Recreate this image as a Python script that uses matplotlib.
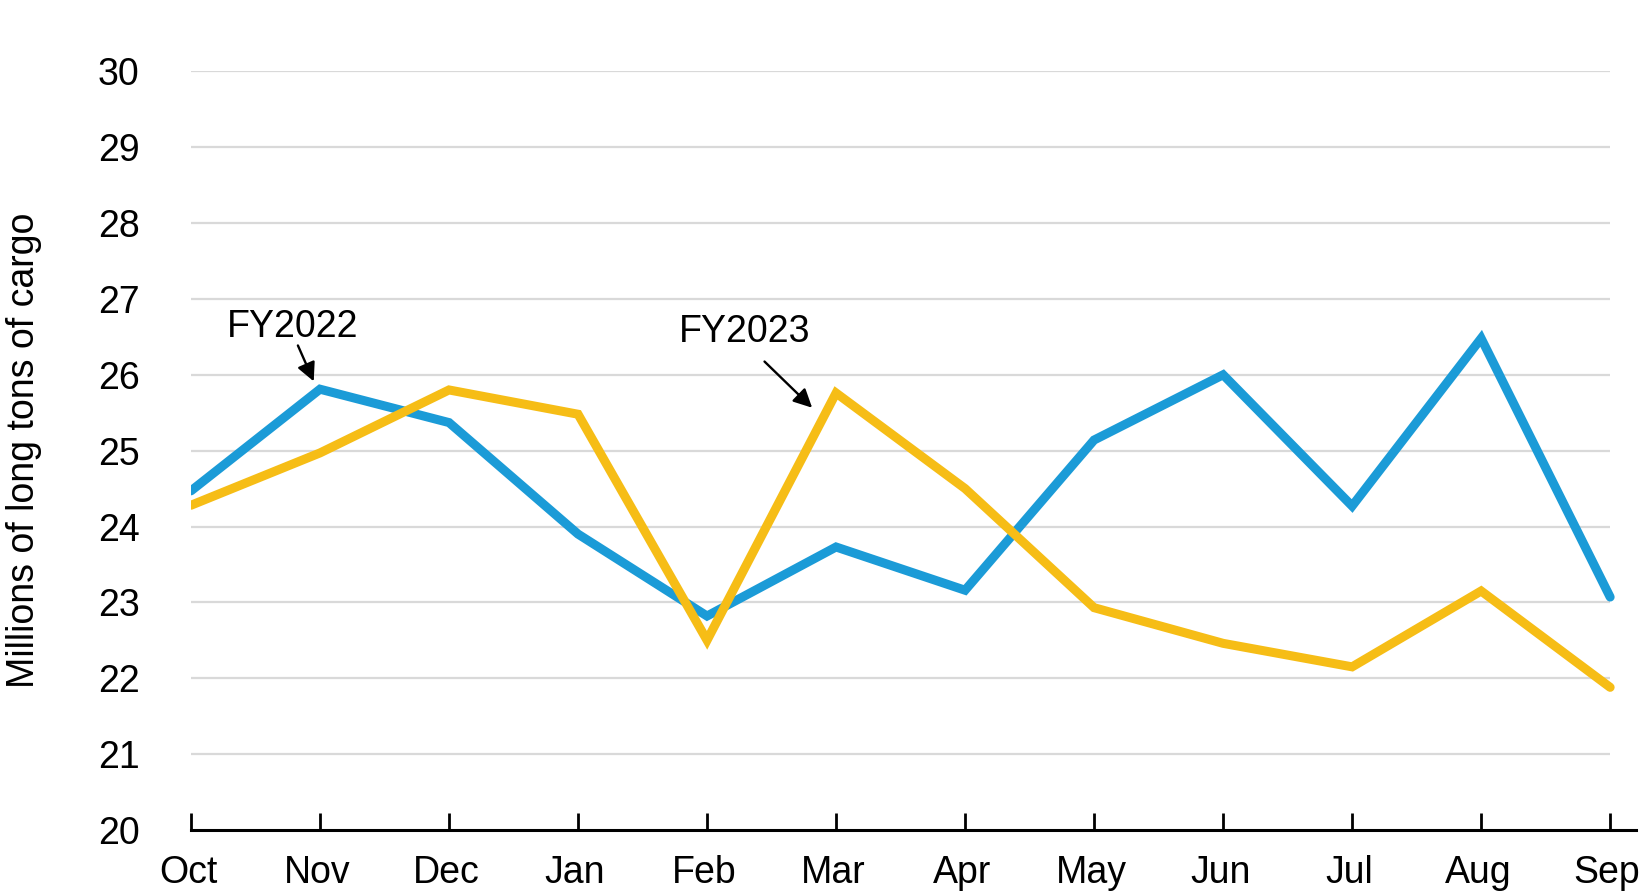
import matplotlib
matplotlib.use("Agg")
import matplotlib.pyplot as plt
from matplotlib.transforms import ScaledTranslation

months = ["Oct", "Nov", "Dec", "Jan", "Feb", "Mar", "Apr", "May", "Jun", "Jul", "Aug", "Sep"]
fy2022 = [24.47, 25.81, 25.37, 23.90, 22.82, 23.73, 23.16, 25.14, 26.00, 24.27, 26.48, 23.07]
fy2023 = [24.28, 24.97, 25.80, 25.48, 22.50, 25.76, 24.50, 22.93, 22.46, 22.15, 23.15, 21.88]
yticks = [20, 21, 22, 23, 24, 25, 26, 27, 28, 29, 30]
ylabel = "Millions of long tons of cargo"

BLUE = "#1b9bd7"
YELLOW = "#f6bd16"
FS = 27

plt.rcParams["font.family"] = ["Liberation Sans", "DejaVu Sans"]

fig = plt.figure(figsize=(16.45, 8.96), dpi=100)
ax = fig.add_axes([0.1161, 0.0737, 0.8784, 0.8467])

x = list(range(len(months)))
ax.hlines(yticks[1:], 0, len(months) - 1, colors="#d9d9d9", linewidth=1.6, zorder=1)
ax.plot(x, fy2022, color=BLUE, linewidth=6.5, solid_capstyle="round", solid_joinstyle="miter", zorder=3)
ax.plot(x, fy2023, color=YELLOW, linewidth=6.5, solid_capstyle="round", solid_joinstyle="miter", zorder=3)

ax.set_xlim(0, 11.2)
ax.set_ylim(20, 30)
ax.set_xticks(x)
ax.set_xticklabels(months, fontsize=FS)
ax.set_yticks(yticks)
ax.set_yticklabels([str(v) for v in yticks], fontsize=FS)
ax.tick_params(axis="x", direction="in", length=12, width=2, pad=18, color="black")
ax.tick_params(axis="y", length=0, pad=37)
shift = ScaledTranslation(-3 / 100, 0, fig.dpi_scale_trans)
for lbl in ax.get_xticklabels():
    lbl.set_transform(lbl.get_transform() + shift)
for s in ["top", "right", "left"]:
    ax.spines[s].set_visible(False)
ax.spines["bottom"].set_linewidth(2.2)
ax.spines["bottom"].set_zorder(4)
ax.set_ylabel(ylabel, fontsize=FS, labelpad=40)

arrow = dict(arrowstyle="-|>", color="black", lw=1.7, mutation_scale=28)
ax.annotate("", xy=(0.96, 25.88), xytext=(0.82, 26.42), arrowprops=arrow, zorder=5)
ax.text(0.79, 26.63, "FY2022", fontsize=FS, ha="center", va="center")
ax.annotate("", xy=(4.83, 25.54), xytext=(4.43, 26.20), arrowprops=arrow, zorder=5)
ax.text(4.29, 26.56, "FY2023", fontsize=FS, ha="center", va="center")

fig.savefig("out.png", dpi=100)
